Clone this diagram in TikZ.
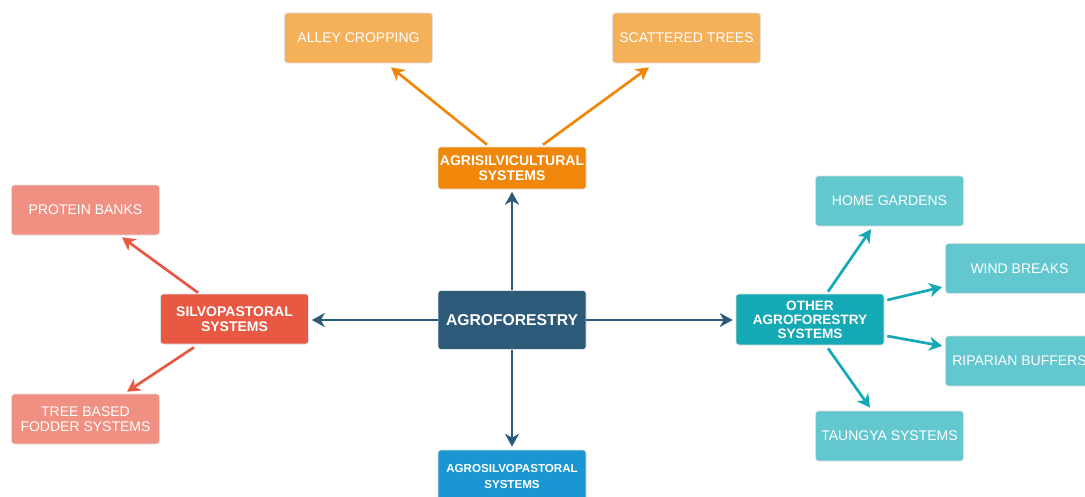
\documentclass[tikz,border=0pt]{standalone}
\usepackage{fontspec}
\setmainfont{Liberation Sans}
\usetikzlibrary{arrows.meta}
\definecolor{cDark}{HTML}{2E5A7A}
\definecolor{cOrange}{HTML}{F0870A}
\definecolor{cOrangeL}{HTML}{F5B05A}
\definecolor{cBlue}{HTML}{1A97D3}
\definecolor{cRed}{HTML}{E85843}
\definecolor{cRedL}{HTML}{F09083}
\definecolor{cTeal}{HTML}{15A9B5}
\definecolor{cTealL}{HTML}{62C7CE}
\tikzset{
  box/.style={rectangle, rounded corners=3pt, minimum width=148pt, text=white, align=center, inner sep=0pt, draw=black!12, line width=0.6pt},
  mainbox/.style={box, font=\bfseries\fontsize{14}{15}\selectfont, minimum height=44pt},
  leaf/.style={box, font=\fontsize{14}{15}\selectfont, minimum height=50pt},
  arr/.style={line width=2.7pt, -{Stealth[length=13pt,width=14pt,inset=4pt]}},
}
\begin{document}
\begin{tikzpicture}[x=1pt,y=-1pt]
\useasboundingbox (0,0) rectangle (1085,496);
\begin{scope}
\clip (0,0) rectangle (1085,496);
% center
\node[box, fill=cDark, minimum height=59pt, font=\bfseries\fontsize{15.7}{18}\selectfont] (root) at (512,320) {AGROFORESTRY};
% top branch
\node[mainbox, fill=cOrange, minimum height=42pt] (agri) at (512,168) {AGRISILVICULTURAL\\SYSTEMS};
\node[leaf, fill=cOrangeL] (alley) at (358.5,38) {ALLEY CROPPING};
\node[leaf, fill=cOrangeL] (scat) at (686.5,38) {SCATTERED TREES};
% bottom branch
\node[box, fill=cBlue, minimum height=52pt, font=\bfseries\fontsize{11.6}{16}\selectfont] (agros) at (512,476) {AGROSILVOPASTORAL\\SYSTEMS};
% left branch
\node[mainbox, fill=cRed, minimum height=50pt] (silvo) at (234.5,319) {SILVOPASTORAL\\SYSTEMS};
\node[leaf, fill=cRedL] (prot) at (85.5,210) {PROTEIN BANKS};
\node[leaf, fill=cRedL] (tree) at (85.5,419) {TREE BASED\\FODDER SYSTEMS};
% right branch
\node[mainbox, fill=cTeal, minimum height=51pt, font=\bfseries\fontsize{13.6}{14}\selectfont] (other) at (810,319.5) {OTHER\\AGROFORESTRY\\SYSTEMS};
\node[leaf, fill=cTealL] (home) at (889.5,201) {HOME GARDENS};
\node[leaf, fill=cTealL] (wind) at (1019.5,268.5) {WIND BREAKS};
\node[leaf, fill=cTealL] (ripa) at (1019.5,361) {RIPARIAN BUFFERS};
\node[leaf, fill=cTealL] (taun) at (889.5,436) {TAUNGYA SYSTEMS};
\end{scope}
% connectors from root
\draw[arr, cDark] (root.north) -- ([yshift=-2.5pt]agri.south);
\draw[arr, cDark] (root.south) -- ([yshift=3pt]agros.north);
\draw[arr, cDark] (root.west) -- ([xshift=3pt]root.west -| silvo.east);
\draw[arr, cDark] (root.east) -- ([xshift=-3pt]root.east -| other.west);
% agrisilvicultural
\draw[arr, cOrange] ([xshift=-25pt,yshift=2pt]agri.north) -- ([xshift=32.5pt,yshift=-4pt]alley.south);
\draw[arr, cOrange] ([xshift=31pt,yshift=2pt]agri.north) -- ([xshift=-37.5pt,yshift=-4pt]scat.south);
% silvopastoral
\draw[arr, cRed] ([xshift=-36.5pt,yshift=1pt]silvo.north) -- ([xshift=36.5pt,yshift=-2pt]prot.south);
\draw[arr, cRed] ([xshift=-40.5pt,yshift=-3pt]silvo.south) -- ([xshift=41.5pt,yshift=2pt]tree.north);
% other
\draw[arr, cTeal] ([xshift=18pt,yshift=2pt]other.north) -- ([xshift=-18.5pt,yshift=-3pt]home.south);
\draw[arr, cTeal] ([xshift=3pt,yshift=19.5pt]other.east) -- ([xshift=-3pt,yshift=-18.5pt]wind.west);
\draw[arr, cTeal] ([xshift=3pt,yshift=-16.5pt]other.east) -- ([xshift=-3pt,yshift=15pt]ripa.west);
\draw[arr, cTeal] ([xshift=18pt,yshift=-3pt]other.south) -- ([xshift=-19.5pt,yshift=3pt]taun.north);
\end{tikzpicture}
\end{document}
